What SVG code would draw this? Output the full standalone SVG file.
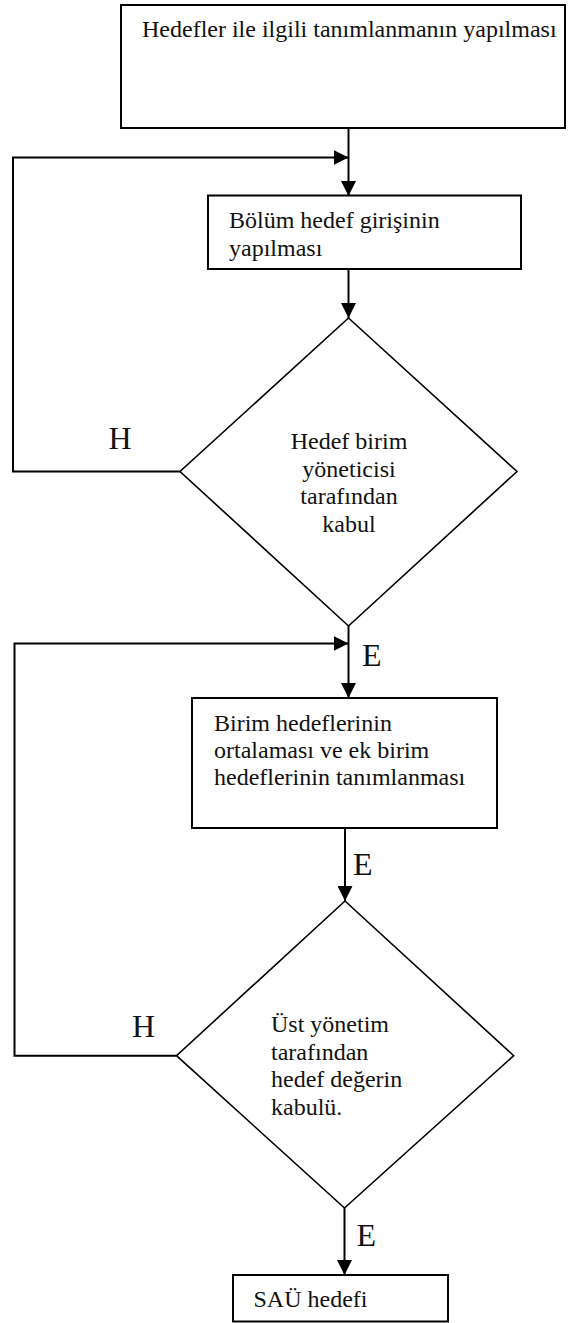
<svg xmlns="http://www.w3.org/2000/svg" width="568" height="1323" viewBox="0 0 568 1323">
  <style>
    .box { fill: #fff; stroke: #000; stroke-width: 2; }
    .dia { fill: #fff; stroke: #000; stroke-width: 1.6; }
    .txt { font-family: "Liberation Serif", "Times New Roman", serif; font-size: 24px; fill: #111; }
    .lbl { font-family: "Liberation Serif", "Times New Roman", serif; font-size: 32px; fill: #111; }
    .con { fill: none; stroke: #000; stroke-width: 2; }
  </style>
  <defs>
    <marker id="arrow" viewBox="0 0 15 15" refX="15" refY="7.5" markerWidth="15" markerHeight="15" markerUnits="userSpaceOnUse" orient="auto">
      <path d="M0,0 L15,7.5 L0,15 z" fill="#000"/>
    </marker>
  </defs>

  <!-- connectors -->
  <g id="connectors">
    <path class="con" d="M348.5,128 V196" marker-end="url(#arrow)"/>
    <path class="con" d="M180,471.5 H13 V157.5 H348.5" marker-end="url(#arrow)"/>
    <path class="con" d="M348.5,269 V318" marker-end="url(#arrow)"/>
    <path class="con" d="M348.5,626 V698" marker-end="url(#arrow)"/>
    <path class="con" d="M176.5,1055.7 H14.5 V643.5 H348.5" marker-end="url(#arrow)"/>
    <path class="con" d="M345,828 V901" marker-end="url(#arrow)"/>
    <path class="con" d="M344.5,1208 V1275" marker-end="url(#arrow)"/>
    <text class="lbl" x="108.5" y="449">H</text>
    <text class="lbl" x="362" y="666">E</text>
    <text class="lbl" x="353" y="875">E</text>
    <text class="lbl" x="132" y="1037">H</text>
    <text class="lbl" x="356.5" y="1246">E</text>
  </g>

  <!-- start: define targets -->
  <g id="node-tanimlama">
    <rect class="box" x="121" y="5" width="444" height="123"/>
    <text class="txt" x="142" y="37">Hedefler ile ilgili tanımlanmanın yapılması</text>
  </g>

  <!-- department target entry -->
  <g id="node-bolum">
    <rect class="box" x="208" y="195.5" width="313" height="73.5"/>
    <text class="txt" x="229" y="228">Bölüm hedef girişinin</text>
    <text class="txt" x="229" y="255.5">yapılması</text>
  </g>

  <!-- decision: unit manager approval -->
  <g id="node-birim-kabul">
    <polygon class="dia" points="348.5,318 517,471.5 348.5,626 180,471.5"/>
    <text class="txt" x="349" y="449" text-anchor="middle">Hedef birim</text>
    <text class="txt" x="349" y="476.5" text-anchor="middle">yöneticisi</text>
    <text class="txt" x="349" y="504" text-anchor="middle">tarafından</text>
    <text class="txt" x="349" y="531.5" text-anchor="middle">kabul</text>
  </g>

  <!-- averaging unit targets -->
  <g id="node-ortalama">
    <rect class="box" x="192" y="698" width="305" height="130"/>
    <text class="txt" x="214" y="731">Birim hedeflerinin</text>
    <text class="txt" x="214" y="758">ortalaması ve ek birim</text>
    <text class="txt" x="214" y="785">hedeflerinin tanımlanması</text>
  </g>

  <!-- decision: top management approval -->
  <g id="node-ust-kabul">
    <polygon class="dia" points="345,901 513.7,1055.7 344.5,1208 176.5,1055.7"/>
    <text class="txt" x="271" y="1032">Üst yönetim</text>
    <text class="txt" x="271" y="1059.5">tarafından</text>
    <text class="txt" x="271" y="1087">hedef değerin</text>
    <text class="txt" x="271" y="1114.5">kabulü.</text>
  </g>

  <!-- end: university target -->
  <g id="node-sau">
    <rect class="box" x="233" y="1275" width="215" height="46.5"/>
    <text class="txt" x="253.5" y="1307">SAÜ hedefi</text>
  </g>
</svg>
